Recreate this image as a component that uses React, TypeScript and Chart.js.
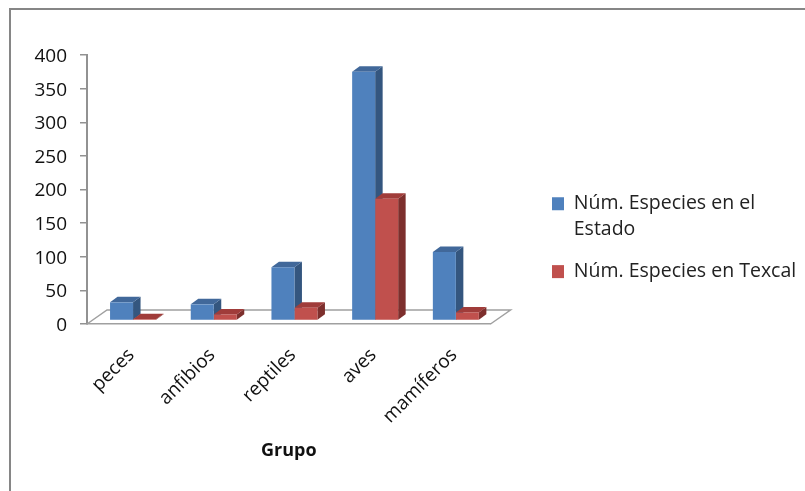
import React, { useEffect, useRef } from "react";
import { Chart, registerables } from "chart.js";

Chart.register(...registerables);

const categories = ["peces", "anfibios", "reptiles", "aves", "mamíferos"];
const estadoLabel = ["Núm. Especies en el", "Estado"];
const texcalLabel = "Núm. Especies en Texcal";
const estadoValues = [27, 24, 79, 370, 102];
const texcalValues = [2, 9, 19, 181, 12];
const FONT = '"Open Sans", sans-serif';

const front = ["#4f81bd", "#c0504d"];
const topFace = ["#41689a", "#a03c3a"];
const sideFace = ["#34567f", "#7d2f2d"];

const floorDX = 20;
const floorDY = 14;
const barShiftX = 5.7;
const barShiftY = 3.5;
const depthX = 7.5;
const depthY = 5.5;

const poly = (ctx: CanvasRenderingContext2D, pts: number[][], fill: string) => {
  ctx.beginPath();
  pts.forEach((p, i) => (i ? ctx.lineTo(p[0], p[1]) : ctx.moveTo(p[0], p[1])));
  ctx.closePath();
  ctx.fillStyle = fill;
  ctx.fill();
};

const threeD = {
  id: "threeD",
  beforeDraw(chart: any) {
    const ctx = chart.ctx;
    ctx.save();
    ctx.strokeStyle = "#868686";
    ctx.lineWidth = 2;
    ctx.beginPath();
    ctx.moveTo(10, 491);
    ctx.lineTo(10, 9);
    ctx.lineTo(805, 9);
    ctx.stroke();
    ctx.restore();
  },
  afterLayout(chart: any) {
    const lg = chart.legend;
    lg.left = 536;
    lg.top = 178;
    lg.right = 805;
    lg.bottom = 300;
  },
  beforeDatasetsDraw(chart: any) {
    const ctx = chart.ctx;
    const { left, right, bottom } = chart.chartArea;
    ctx.save();
    ctx.strokeStyle = "#a0a0a0";
    ctx.lineWidth = 1.5;
    ctx.beginPath();
    ctx.moveTo(left, bottom);
    ctx.lineTo(left + floorDX, bottom - floorDY);
    ctx.lineTo(right + floorDX, bottom - floorDY);
    ctx.lineTo(right, bottom);
    ctx.stroke();
    ctx.restore();

    ctx.save();
    ctx.translate(barShiftX, -barShiftY);
    chart.data.datasets.forEach((_: any, di: number) => {
      chart.getDatasetMeta(di).data.forEach((el: any) => {
        const { x, y, base, width } = el.getProps(["x", "y", "base", "width"], true);
        const l = x - width / 2;
        const r = x + width / 2;
        poly(ctx, [[r, y], [r + depthX, y - depthY], [r + depthX, base - depthY], [r, base]], sideFace[di]);
        poly(ctx, [[l, y], [l + depthX, y - depthY], [r + depthX, y - depthY], [r, y]], topFace[di]);
      });
    });
  },
  afterDatasetsDraw(chart: any) {
    chart.ctx.restore();
  },
};

export default function App() {
  const ref = useRef<HTMLCanvasElement>(null);
  useEffect(() => {
    const chart = new Chart(ref.current!, {
      type: "bar",
      data: {
        labels: categories,
        datasets: [
          { label: estadoLabel as any, data: estadoValues, backgroundColor: front[0], clip: false as any },
          { label: texcalLabel, data: texcalValues, backgroundColor: front[1], clip: false as any },
        ],
      },
      options: {
        responsive: false,
        animation: false,
        layout: { padding: { left: 0, top: 55, right: 151, bottom: 0 } },
        datasets: { bar: { categoryPercentage: 0.57, barPercentage: 1 } },
        scales: {
          x: {
            afterFit: (s: any) => { s.height = 167; },
            border: { color: "#a0a0a0", width: 1.5 },
            grid: { display: false },
            ticks: {
              color: "#111",
              font: { family: FONT, size: 19 },
              minRotation: 45,
              maxRotation: 45,
              padding: 12,
              labelOffset: 4,
              autoSkip: false,
            },
            title: {
              display: true,
              text: "Grupo",
              color: "#111",
              font: { family: FONT, size: 18, weight: "bold" },
              padding: { top: 0, bottom: 29 },
            },
          },
          y: {
            min: 0,
            max: 400,
            afterFit: (s: any) => { s.width = 87; },
            border: { color: "#929292", width: 2 },
            grid: { drawOnChartArea: false, drawTicks: true, tickLength: 7, color: "#929292", lineWidth: 1.5 },
            ticks: {
              stepSize: 50,
              color: "#111",
              font: { family: FONT, size: 19 },
              padding: 13,
              labelOffset: 1.5,
            },
          },
        },
        plugins: {
          tooltip: { enabled: false },
          legend: {
            position: "right",
            align: "start",
            labels: {
              color: "#222",
              boxWidth: 12,
              boxHeight: 13,
              padding: 16,
              font: { family: FONT, size: 19.5, lineHeight: 1.33 },
            },
          },
        },
      },
      plugins: [threeD],
    });
    return () => chart.destroy();
  }, []);
  return (
    <div style={{ position: "absolute", left: 0, top: 0, width: 805, height: 491, background: "#fff" }}>
      <canvas ref={ref} width={805} height={491} style={{ display: "block" }} />
    </div>
  );
}
